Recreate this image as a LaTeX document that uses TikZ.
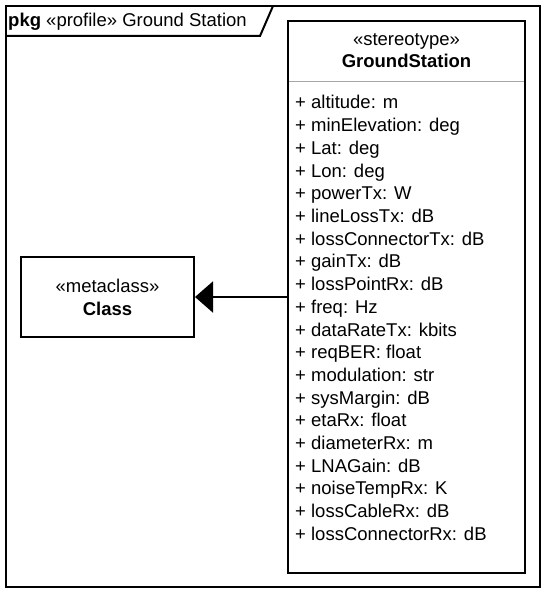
\documentclass[tikz,border=0pt]{standalone}
\usepackage{fontspec}
\setmainfont{Liberation Sans}
\usetikzlibrary{arrows.meta}
\begin{document}
\begin{tikzpicture}[x=1pt,y=-1pt,
  frame/.style={draw=black,line width=2pt},
  txt/.style={font=\fontsize{18.5}{21}\selectfont,inner sep=0pt,anchor=base},
  attr/.style={font=\fontsize{18.5}{21}\selectfont,inner sep=0pt,anchor=base west}]
\useasboundingbox (0,0) rectangle (550,596);
% package frame
\draw[frame] (6,6) rectangle (540,587);
\draw[frame] (6,36) -- (260,36) -- (273,6);
\node[txt,anchor=base west] (title) at (8,27) {\textbf{pkg} «profile» Ground Station};
% stereotype box
\draw[frame] (288,21) rectangle (525,573);
\node[draw=none,minimum width=237pt,minimum height=552pt,inner sep=0pt] (gs) at (406.5,297) {};
\draw[gray!70,line width=1pt] (289,82) -- (524,82);
\node[txt] (st) at (406.5,46) {«stereotype»};
\node[txt] (stn) at (406.5,68) {\textbf{GroundStation}};
\foreach \t [count=\i from 0] in {altitude: m, minElevation: deg, Lat: deg, Lon: deg, powerTx: W, lineLossTx: dB, lossConnectorTx: dB, gainTx: dB, lossPointRx: dB, freq: Hz, dataRateTx: kbits, reqBER: float, modulation: str, sysMargin: dB, etaRx: float, diameterRx: m, LNAGain: dB, noiseTempRx: K, lossCableRx: dB, lossConnectorRx: dB}
  \node[attr] (a\i) at (295,{109+22.7*\i}) {+ \t};
% metaclass box
\node[frame,minimum width=173pt,minimum height=80pt,inner sep=0pt] (cls) at (107.5,297) {};
\node[txt] (mc) at (107.5,292) {«metaclass»};
\node[txt] (cn) at (107.5,315) {\textbf{Class}};
% extension arrow
\draw[line width=2pt,-{Triangle[length=18pt,width=31pt]}] (gs.west) -- (cls.east);
\end{tikzpicture}
\end{document}
